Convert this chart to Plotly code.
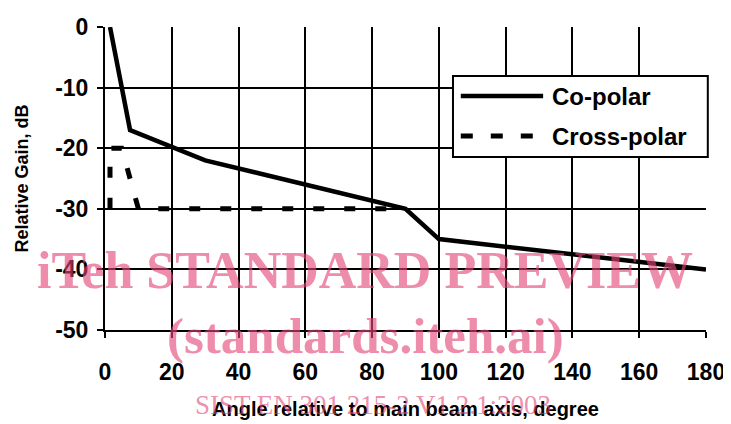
import plotly.graph_objects as go

# ---- data ----
co_angle = [1.5, 7.5, 30, 90, 100, 180]
co_gain = [0, -17, -22, -30, -35, -40]
cross_angle = [1.5, 1.5, 5, 10, 90]
cross_gain = [-30, -20, -20, -30, -30]
x_ticks = [0, 20, 40, 60, 80, 100, 120, 140, 160, 180]
x_labels = [str(v) for v in x_ticks]
y_ticks = [0, -10, -20, -30, -40, -50]
y_labels = ["0", "-10", "-20", "-30", "-40", "-50"]
series_names = ["Co-polar", "Cross-polar"]

FONT = "Liberation Sans"
SERIF = "Liberation Serif"
PINK = "rgba(226,70,120,0.62)"

fig = go.Figure()
fig.add_trace(go.Scatter(x=co_angle, y=co_gain, mode="lines", name=series_names[0],
                         line=dict(color="black", width=4.5), showlegend=False))
fig.add_trace(go.Scatter(x=cross_angle, y=cross_gain, mode="lines", name=series_names[1],
                         line=dict(color="black", width=5, dash="11px,20px"), showlegend=False))

axis_common = dict(showgrid=True, gridcolor="black", gridwidth=2, zeroline=False,
                   showline=True, linecolor="black", linewidth=2, automargin=False,
                   ticks="outside", ticklen=6, tickwidth=2, tickcolor="black",
                   tickfont=dict(family=FONT, size=23, color="black", weight="bold"))

fig.update_xaxes(range=[0, 180], tickvals=x_ticks, ticktext=x_labels, ticklabelstandoff=14,
                 title=dict(text="Angle relative to main beam axis, degree",
                            font=dict(family=FONT, size=20, color="black", weight="bold"),
                            standoff=18),
                 **axis_common)
fig.update_yaxes(range=[-50, 0], tickvals=y_ticks, ticktext=y_labels, ticklabelstandoff=4,
                 title=dict(text="Relative Gain, dB",
                            font=dict(family=FONT, size=18, color="black", weight="bold"),
                            standoff=22),
                 **axis_common)

# custom legend (box + samples + labels)
shapes = [
    dict(type="rect", xref="paper", yref="paper", x0=0.579, x1=1.003, y0=0.571, y1=0.838,
         line=dict(color="black", width=2), fillcolor="white", layer="above"),
    dict(type="line", xref="paper", yref="paper", x0=0.592, x1=0.729, y0=0.772, y1=0.772,
         line=dict(color="black", width=4.5), layer="above"),
    dict(type="line", xref="paper", yref="paper", x0=0.592, x1=0.729, y0=0.640, y1=0.640,
         line=dict(color="black", width=5, dash="12px,18px"), layer="above"),
]
annotations = [
    dict(text=series_names[0], xref="paper", yref="paper", x=0.740, y=0.772,
         xanchor="left", yanchor="middle", showarrow=False,
         font=dict(family=FONT, size=24, color="black", weight="bold")),
    dict(text=series_names[1], xref="paper", yref="paper", x=0.740, y=0.640,
         xanchor="left", yanchor="middle", showarrow=False,
         font=dict(family=FONT, size=24, color="black", weight="bold")),
    dict(text="iTeh STANDARD PREVIEW", xref="paper", yref="paper", x=0.4326, y=0.195,
         xanchor="center", yanchor="middle", showarrow=False,
         font=dict(family=SERIF, size=52, color=PINK, weight="bold")),
    dict(text="(standards.iteh.ai)", xref="paper", yref="paper", x=0.434, y=-0.02,
         xanchor="center", yanchor="middle", showarrow=False,
         font=dict(family=SERIF, size=51, color=PINK, weight="bold")),
    dict(text="SIST EN 301 215-2 V1.2.1:2003", xref="paper", yref="paper", x=0.446, y=-0.2475,
         xanchor="center", yanchor="middle", showarrow=False,
         font=dict(family=SERIF, size=27, color=PINK)),
]

# the page adds an 8px body margin, so the figure is 8px smaller and margins shifted
fig.update_layout(width=723, height=416, margin=dict(l=97, r=25, t=19, b=94),
                  paper_bgcolor="white", plot_bgcolor="white",
                  shapes=shapes, annotations=annotations, showlegend=False)

fig.write_html("out.html")
